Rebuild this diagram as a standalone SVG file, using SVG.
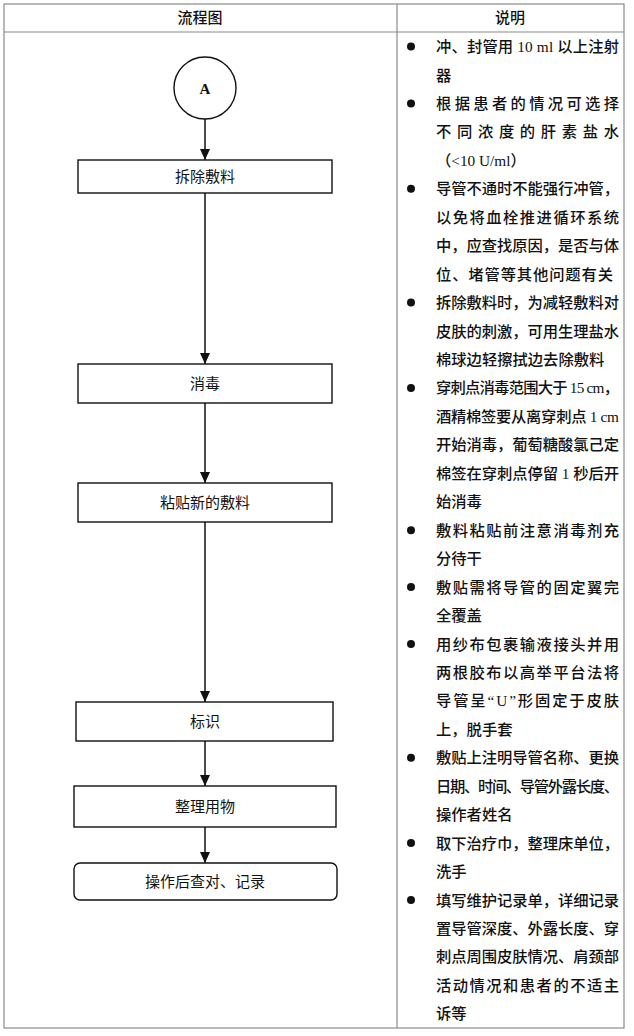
<svg xmlns="http://www.w3.org/2000/svg" width="634" height="1036" viewBox="0 0 634 1036">
<style>
.grid{fill:none;stroke:#8a8a8a;stroke-width:1.2}
.hdr{font-family:"Noto Sans CJK SC","Noto Sans",sans-serif;font-size:15px;font-weight:500;fill:#111;text-anchor:middle}
.box{fill:#fff;stroke:#111;stroke-width:1.4}
.lbl{font-family:"Noto Sans CJK SC","Noto Sans",sans-serif;font-size:15px;fill:#111;text-anchor:middle}
.conn{stroke:#111;stroke-width:1.5;fill:none;marker-end:url(#arr)}
.note{font-family:"Liberation Serif","Noto Sans CJK SC",serif;font-size:15.3px;font-weight:500;fill:#111}
.dot{fill:#111}
</style>
<defs>
<marker id="arr" markerUnits="userSpaceOnUse" markerWidth="11" markerHeight="10" refX="11" refY="5" orient="auto" viewBox="0 0 11 10">
<path d="M0,0 L11,5 L0,10 Z" fill="#111"/>
</marker>
</defs>
<rect width="634" height="1036" fill="#fff"/>
<g id="table">
<rect class="grid" x="4" y="4" width="620" height="1024"/>
<line class="grid" x1="4" y1="32" x2="624" y2="32"/>
<line class="grid" x1="397" y1="4" x2="397" y2="1028"/>
<text class="hdr" x="200" y="23">流程图</text>
<text class="hdr" x="510" y="23">说明</text>
</g>
<g id="connectors">
<line class="conn" x1="205" y1="119" x2="205" y2="160"/>
<line class="conn" x1="205" y1="193" x2="205" y2="364"/>
<line class="conn" x1="205" y1="403" x2="205" y2="483"/>
<line class="conn" x1="205" y1="522" x2="205" y2="702"/>
<line class="conn" x1="205" y1="741" x2="205" y2="786"/>
<line class="conn" x1="205" y1="827" x2="205" y2="863"/>
</g>
<g id="nodeA"><circle class="box" cx="205" cy="88" r="31"/><text x="205" y="94" text-anchor="middle" font-family="Liberation Serif,serif" font-weight="bold" font-size="15" fill="#111">A</text></g>
<g id="n1"><rect class="box" x="78" y="160" width="254" height="33"/><text class="lbl" x="205" y="182">拆除敷料</text></g>
<g id="n2"><rect class="box" x="78" y="364" width="254" height="39"/><text class="lbl" x="205" y="389">消毒</text></g>
<g id="n3"><rect class="box" x="78" y="483" width="254" height="39"/><text class="lbl" x="205" y="508">粘贴新的敷料</text></g>
<g id="n4"><rect class="box" x="76" y="702" width="257" height="39"/><text class="lbl" x="205" y="727">标识</text></g>
<g id="n5"><rect class="box" x="74" y="786" width="262" height="41"/><text class="lbl" x="205" y="812">整理用物</text></g>
<g id="n6"><rect class="box" x="74" y="863" width="263" height="37" rx="6"/><text class="lbl" x="205" y="887">操作后查对、记录</text></g>
<g id="notes">
<circle class="dot" cx="411" cy="46.5" r="4"/>
<circle class="dot" cx="411" cy="103.4" r="4"/>
<circle class="dot" cx="411" cy="188.8" r="4"/>
<circle class="dot" cx="411" cy="302.6" r="4"/>
<circle class="dot" cx="411" cy="387.9" r="4"/>
<circle class="dot" cx="411" cy="530.2" r="4"/>
<circle class="dot" cx="411" cy="587.1" r="4"/>
<circle class="dot" cx="411" cy="644" r="4"/>
<circle class="dot" cx="411" cy="757.8" r="4"/>
<circle class="dot" cx="411" cy="843.1" r="4"/>
<circle class="dot" cx="411" cy="900" r="4"/>
<text class="note" x="436" y="52" textLength="183" lengthAdjust="spacing">冲、封管用 10 ml 以上注射</text>
<text class="note" x="436" y="80.5">器</text>
<text class="note" x="436" y="108.9" textLength="183" lengthAdjust="spacing">根据患者的情况可选择</text>
<text class="note" x="436" y="137.4" textLength="183" lengthAdjust="spacing">不同浓度的肝素盐水</text>
<text class="note" x="436" y="165.8">（&lt;10 U/ml）</text>
<text class="note" x="436" y="194.3" textLength="183" lengthAdjust="spacing">导管不通时不能强行冲管，</text>
<text class="note" x="436" y="222.7" textLength="183" lengthAdjust="spacing">以免将血栓推进循环系统</text>
<text class="note" x="436" y="251.2" textLength="183" lengthAdjust="spacing">中，应查找原因，是否与体</text>
<text class="note" x="436" y="279.6" textLength="177" lengthAdjust="spacing">位、堵管等其他问题有关</text>
<text class="note" x="436" y="308.1" textLength="183" lengthAdjust="spacing">拆除敷料时，为减轻敷料对</text>
<text class="note" x="436" y="336.5" textLength="183" lengthAdjust="spacing">皮肤的刺激，可用生理盐水</text>
<text class="note" x="436" y="365">棉球边轻擦拭边去除敷料</text>
<text class="note" x="436" y="393.4" textLength="183" lengthAdjust="spacing">穿刺点消毒范围大于 15 cm，</text>
<text class="note" x="436" y="421.9" textLength="183" lengthAdjust="spacing">酒精棉签要从离穿刺点 1 cm</text>
<text class="note" x="436" y="450.3" textLength="183" lengthAdjust="spacing">开始消毒，葡萄糖酸氯己定</text>
<text class="note" x="436" y="478.8" textLength="183" lengthAdjust="spacing">棉签在穿刺点停留 1 秒后开</text>
<text class="note" x="436" y="507.2">始消毒</text>
<text class="note" x="436" y="535.7" textLength="183" lengthAdjust="spacing">敷料粘贴前注意消毒剂充</text>
<text class="note" x="436" y="564.1">分待干</text>
<text class="note" x="436" y="592.6" textLength="183" lengthAdjust="spacing">敷贴需将导管的固定翼完</text>
<text class="note" x="436" y="621">全覆盖</text>
<text class="note" x="436" y="649.5" textLength="183" lengthAdjust="spacing">用纱布包裹输液接头并用</text>
<text class="note" x="436" y="677.9" textLength="183" lengthAdjust="spacing">两根胶布以高举平台法将</text>
<text class="note" x="436" y="706.4" textLength="183" lengthAdjust="spacing">导管呈“U”形固定于皮肤</text>
<text class="note" x="436" y="734.8">上，脱手套</text>
<text class="note" x="436" y="763.3" textLength="183" lengthAdjust="spacing">敷贴上注明导管名称、更换</text>
<text class="note" x="436" y="791.7" textLength="183" lengthAdjust="spacing">日期、时间、导管外露长度、</text>
<text class="note" x="436" y="820.2">操作者姓名</text>
<text class="note" x="436" y="848.6" textLength="183" lengthAdjust="spacing">取下治疗巾，整理床单位，</text>
<text class="note" x="436" y="877.1">洗手</text>
<text class="note" x="436" y="905.5" textLength="183" lengthAdjust="spacing">填写维护记录单，详细记录</text>
<text class="note" x="436" y="934" textLength="183" lengthAdjust="spacing">置导管深度、外露长度、穿</text>
<text class="note" x="436" y="962.4" textLength="183" lengthAdjust="spacing">刺点周围皮肤情况、肩颈部</text>
<text class="note" x="436" y="990.9" textLength="183" lengthAdjust="spacing">活动情况和患者的不适主</text>
<text class="note" x="436" y="1019.3">诉等</text>
</g>
</svg>
